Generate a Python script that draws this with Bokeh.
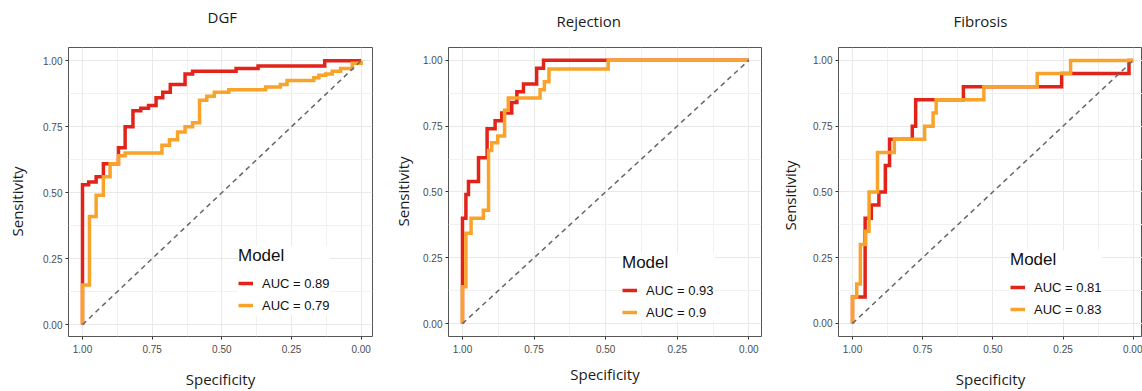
from bokeh.plotting import figure
from bokeh.layouts import row
from bokeh.models import Range1d, FixedTicker, NumeralTickFormatter, Legend, LegendItem, Title
from bokeh.embed import file_html
from bokeh.resources import INLINE

# ---------------- data ----------------
titles = ["DGF", "Rejection", "Fibrosis"]
legend_title = "Model"
x_label = "Specificity"
y_label = "Sensitivity"
tick_values = [0.0, 0.25, 0.5, 0.75, 1.0]
minor_tick_values = [0.125, 0.375, 0.625, 0.875]
chance_spec = [1.0, 0.0]
chance_sens = [0.0, 1.0]

# DGF
dgf_red_spec = [1.0, 1.0, 0.978, 0.951, 0.925, 0.871, 0.847, 0.819, 0.791, 0.763, 0.736,
                0.712, 0.685, 0.632, 0.605, 0.449, 0.370, 0.131, 0.0]
dgf_red_sens = [0.0, 0.53, 0.54, 0.56, 0.61, 0.67, 0.75, 0.81, 0.82, 0.83, 0.86,
                0.88, 0.91, 0.95, 0.96, 0.97, 0.98, 1.0, 1.0]
dgf_orange_spec = [1.0, 1.0, 0.975, 0.951, 0.925, 0.901, 0.871, 0.847, 0.715, 0.688, 0.659,
                   0.632, 0.605, 0.580, 0.554, 0.527, 0.475, 0.343, 0.290, 0.266, 0.170,
                   0.152, 0.128, 0.104, 0.074, 0.032, 0.0]
dgf_orange_sens = [0.0, 0.15, 0.41, 0.49, 0.56, 0.61, 0.64, 0.65, 0.68, 0.70, 0.73,
                   0.75, 0.765, 0.85, 0.865, 0.88, 0.89, 0.90, 0.91, 0.925, 0.935,
                   0.945, 0.95, 0.96, 0.97, 0.99, 1.0]

# Rejection
rej_red_spec = [1.0, 1.0, 0.988, 0.979, 0.944, 0.914, 0.886, 0.863, 0.828, 0.810, 0.787,
                0.741, 0.717, 0.0]
rej_red_sens = [0.0, 0.40, 0.49, 0.54, 0.63, 0.74, 0.77, 0.80, 0.84, 0.88, 0.91,
                0.97, 1.0, 1.0]
rej_orange_spec = [1.0, 1.0, 0.988, 0.970, 0.927, 0.909, 0.898, 0.877, 0.853, 0.840, 0.729,
                   0.714, 0.698, 0.491, 0.0]
rej_orange_sens = [0.0, 0.14, 0.343, 0.40, 0.43, 0.657, 0.687, 0.712, 0.81, 0.857, 0.888,
                   0.918, 0.967, 1.0, 1.0]

# Fibrosis
fib_red_spec = [1.0, 1.0, 0.955, 0.933, 0.906, 0.883, 0.868, 0.787, 0.775, 0.605, 0.255,
                0.015, 0.0]
fib_red_sens = [0.0, 0.10, 0.40, 0.45, 0.50, 0.60, 0.70, 0.75, 0.85, 0.90, 0.95,
                1.0, 1.0]
fib_orange_spec = [1.0, 1.0, 0.985, 0.972, 0.953, 0.941, 0.911, 0.851, 0.743, 0.713, 0.702,
                   0.532, 0.342, 0.223, 0.0]
fib_orange_sens = [0.0, 0.10, 0.15, 0.30, 0.35, 0.50, 0.65, 0.70, 0.75, 0.80, 0.85,
                   0.90, 0.95, 1.0, 1.0]

auc_labels = [["AUC = 0.89", "AUC = 0.79"],
              ["AUC = 0.93", "AUC = 0.9"],
              ["AUC = 0.81", "AUC = 0.83"]]

curves = [
    [(dgf_red_spec, dgf_red_sens), (dgf_orange_spec, dgf_orange_sens)],
    [(rej_red_spec, rej_red_sens), (rej_orange_spec, rej_orange_sens)],
    [(fib_red_spec, fib_red_sens), (fib_orange_spec, fib_orange_sens)],
]

# ---------------- style / layout ----------------
RED = "#E2231A"
ORANGE = "#F9A32B"
line_colors = [RED, ORANGE]

panel_cfg = [
    dict(w=380, bl=68, br=8, bt=45, bb=54, x0=1.0502, x1=-0.0405, y0=-0.045, y1=1.05,
         leg=(170, 21), toff=139, gap=16, ygap=11, yoff=100, xlab_s=13),
    dict(w=390, bl=68, br=9, bt=46, bb=44, x0=1.0488, x1=-0.0443, y0=-0.049, y1=1.0485,
         leg=(174, 14), toff=108, gap=12, ygap=5, yoff=110, xlab_s=8),
    dict(w=372, bl=68, br=0, bt=47, bb=48, x0=1.0499, x1=-0.0331, y0=-0.0498, y1=1.049,
         leg=(172, 17), toff=115, gap=12, ygap=8, yoff=106, xlab_s=13),
]

TEXT_FONT = "Open Sans"


def make_panel(title, panel_curves, labels, cfg):
    p = figure(width=cfg["w"], height=391, output_backend="svg", toolbar_location=None,
               x_range=Range1d(cfg["x0"], cfg["x1"]), y_range=Range1d(cfg["y0"], cfg["y1"]),
               min_border_left=cfg["bl"], min_border_right=cfg["br"],
               min_border_top=cfg["bt"], min_border_bottom=cfg["bb"])
    p.background_fill_color = "white"
    p.border_fill_color = "white"
    p.outline_line_color = "#555555"
    p.outline_line_width = 1

    # blank spacer next to the frame, then the panel title above it
    p.add_layout(Title(text=" ", text_font_size="1px", standoff=cfg["gap"]), "above")
    p.add_layout(Title(text=title, align="left", vertical_align="top", offset=cfg["toff"],
                       standoff=0, text_font=TEXT_FONT, text_font_size="15px",
                       text_font_style="normal", text_color="#1a1a1a"), "above")

    # y label: spacer beside the tick labels, then the rotated label
    p.add_layout(Title(text=" ", text_font_size="1px", standoff=cfg["ygap"]), "left")
    p.add_layout(Title(text=y_label, align="left", vertical_align="bottom",
                       offset=cfg["yoff"], standoff=0, text_font=TEXT_FONT,
                       text_font_size="15px", text_font_style="normal",
                       text_color="#1a1a1a"), "left")

    for ax in (p.xaxis[0], p.yaxis[0]):
        ax.ticker = FixedTicker(ticks=tick_values, minor_ticks=minor_tick_values)
        ax.formatter = NumeralTickFormatter(format="0.00")
        ax.axis_line_color = None
        ax.major_tick_line_color = "#333333"
        ax.major_tick_out = 3
        ax.major_tick_in = 0
        ax.minor_tick_line_color = None
        ax.major_label_text_font = "Liberation Sans"
        ax.major_label_text_font_size = "10px"
        ax.major_label_text_color = "#4D4D4D"
        ax.axis_label_text_font = TEXT_FONT
        ax.axis_label_text_font_size = "15px"
        ax.axis_label_text_font_style = "normal"
        ax.axis_label_text_color = "#1a1a1a"
    p.xaxis.axis_label = x_label
    p.xaxis.major_label_standoff = 4
    p.yaxis.major_label_standoff = 2
    p.xaxis.axis_label_standoff = cfg["xlab_s"]

    for g in (p.xgrid[0], p.ygrid[0]):
        g.grid_line_color = "#E9E9E9"
        g.grid_line_width = 1
        g.minor_grid_line_color = "#F1F1F1"
        g.minor_grid_line_width = 1

    renderers = []
    for (spec, sens), col in zip(panel_curves, line_colors):
        r = p.step(x=spec, y=sens, mode="after", line_color=col, line_width=3.5,
                   line_join="miter")
        renderers.append(r)

    p.line(x=chance_spec, y=chance_sens, line_color="#666666", line_width=1.5,
           line_dash="5 4")

    legend = Legend(
        items=[LegendItem(label=lab, renderers=[r]) for lab, r in zip(labels, renderers)],
        location=cfg["leg"], title=legend_title,
        background_fill_color="white", background_fill_alpha=1.0,
        border_line_color=None, padding=7, spacing=2, margin=0,
        label_height=20, glyph_width=15, glyph_height=20, label_standoff=9,
        title_standoff=7, title_text_font="Liberation Sans", title_text_font_size="17px",
        title_text_font_style="normal", title_text_color="#111111",
        label_text_font="Liberation Sans", label_text_font_size="13px",
        label_text_color="#111111",
    )
    p.add_layout(legend)
    return p


panels = [make_panel(t, c, l, cfg) for t, c, l, cfg in zip(titles, curves, auc_labels, panel_cfg)]
layout = row(*panels, spacing=0)

open("out.html", "w").write(file_html(layout, INLINE))
